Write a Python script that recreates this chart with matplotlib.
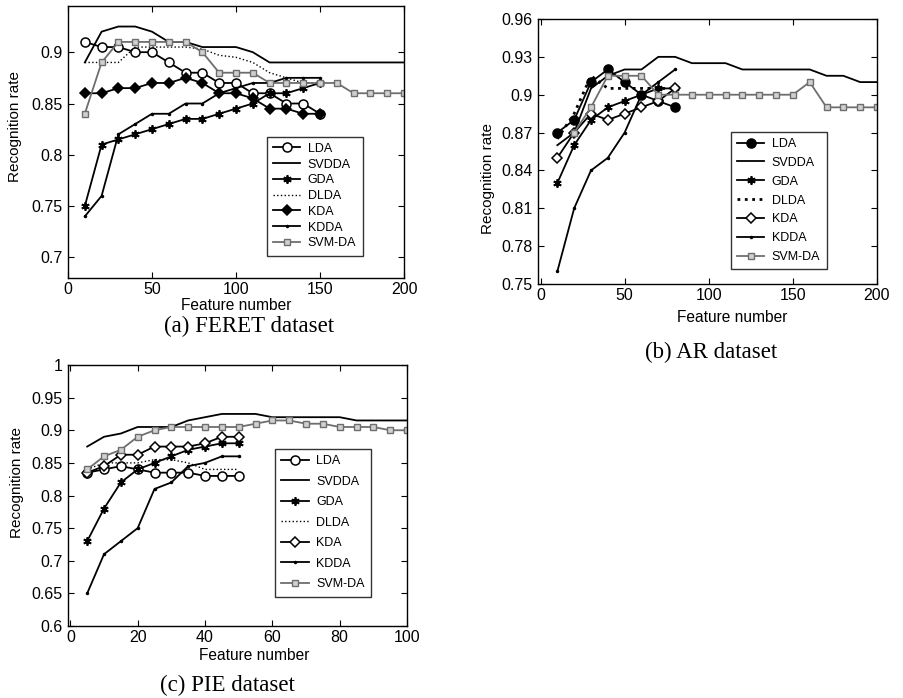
import matplotlib
matplotlib.use("Agg")
import matplotlib.pyplot as plt

plt.rcParams["font.family"] = ["Liberation Sans", "DejaVu Sans"]

METHODS = ["LDA", "SVDDA", "GDA", "DLDA", "KDA", "KDDA", "SVM-DA"]

# ---- (a) FERET ----
a_x15 = [10, 20, 30, 40, 50, 60, 70, 80, 90, 100, 110, 120, 130, 140, 150]
a_x20 = [10, 20, 30, 40, 50, 60, 70, 80, 90, 100, 110, 120, 130, 140, 150,
         160, 170, 180, 190, 200]
a_lda = [0.91, 0.905, 0.905, 0.9, 0.9, 0.89, 0.88, 0.88, 0.87, 0.87, 0.86, 0.86,
         0.85, 0.85, 0.84]
a_svdda = [0.89, 0.92, 0.925, 0.925, 0.92, 0.91, 0.91, 0.905, 0.905, 0.905, 0.9,
           0.89, 0.89, 0.89, 0.89, 0.89, 0.89, 0.89, 0.89, 0.89]
a_gda = [0.75, 0.81, 0.815, 0.82, 0.825, 0.83, 0.835, 0.835, 0.84, 0.845, 0.85,
         0.86, 0.86, 0.865, 0.87]
a_dlda = [0.89, 0.89, 0.89, 0.905, 0.905, 0.905, 0.905, 0.903, 0.897, 0.895,
          0.89, 0.88, 0.875, 0.87, 0.87]
a_kda = [0.86, 0.86, 0.865, 0.865, 0.87, 0.87, 0.875, 0.87, 0.86, 0.86, 0.855,
         0.845, 0.845, 0.84, 0.84]
a_kdda = [0.74, 0.76, 0.82, 0.83, 0.84, 0.84, 0.85, 0.85, 0.86, 0.865, 0.87,
          0.87, 0.875, 0.875, 0.875]
a_svmda = [0.84, 0.89, 0.91, 0.91, 0.91, 0.91, 0.91, 0.9, 0.88, 0.88, 0.88, 0.87,
           0.87, 0.87, 0.87, 0.87, 0.86, 0.86, 0.86, 0.86]
a_yticks = [0.7, 0.75, 0.8, 0.85, 0.9]
a_ylabels = ["0.7", "0.75", "0.8", "0.85", "0.9"]

# ---- (b) AR ----
b_x8 = [10, 20, 30, 40, 50, 60, 70, 80]
b_x20 = [10, 20, 30, 40, 50, 60, 70, 80, 90, 100, 110, 120, 130, 140, 150,
         160, 170, 180, 190, 200]
b_x19 = b_x20[1:]
b_lda = [0.87, 0.88, 0.91, 0.92, 0.91, 0.9, 0.895, 0.89]
b_svdda = [0.86, 0.87, 0.905, 0.915, 0.92, 0.92, 0.93, 0.93, 0.925, 0.925, 0.925,
           0.92, 0.92, 0.92, 0.92, 0.92, 0.915, 0.915, 0.91, 0.91]
b_gda = [0.83, 0.86, 0.88, 0.89, 0.895, 0.9, 0.905, 0.905]
b_dlda = [0.865, 0.885, 0.915, 0.905, 0.905, 0.905, 0.905, 0.905]
b_kda = [0.85, 0.87, 0.885, 0.88, 0.885, 0.89, 0.895, 0.905]
b_kdda = [0.76, 0.81, 0.84, 0.85, 0.87, 0.9, 0.91, 0.92]
b_svmda = [0.87, 0.89, 0.915, 0.915, 0.915, 0.9, 0.9, 0.9, 0.9, 0.9, 0.9, 0.9,
           0.9, 0.9, 0.91, 0.89, 0.89, 0.89, 0.89]
b_yticks = [0.75, 0.78, 0.81, 0.84, 0.87, 0.9, 0.93, 0.96]
b_ylabels = ["0.75", "0.78", "0.81", "0.84", "0.87", "0.9", "0.93", "0.96"]

# ---- (c) PIE ----
c_x10 = [5, 10, 15, 20, 25, 30, 35, 40, 45, 50]
c_x20 = [5, 10, 15, 20, 25, 30, 35, 40, 45, 50, 55, 60, 65, 70, 75, 80, 85, 90,
         95, 100]
c_lda = [0.835, 0.84, 0.845, 0.84, 0.835, 0.835, 0.835, 0.83, 0.83, 0.83]
c_svdda = [0.875, 0.89, 0.895, 0.905, 0.905, 0.905, 0.915, 0.92, 0.925, 0.925,
           0.925, 0.92, 0.92, 0.92, 0.92, 0.92, 0.915, 0.915, 0.915, 0.915]
c_gda = [0.73, 0.78, 0.82, 0.84, 0.85, 0.86, 0.87, 0.875, 0.88, 0.88]
c_dlda = [0.84, 0.85, 0.85, 0.85, 0.855, 0.855, 0.85, 0.84, 0.84, 0.84]
c_kda = [0.835, 0.845, 0.8625, 0.8625, 0.875, 0.875, 0.875, 0.88, 0.89, 0.89]
c_kdda = [0.65, 0.71, 0.73, 0.75, 0.81, 0.82, 0.845, 0.85, 0.86, 0.86]
c_svmda = [0.84, 0.86, 0.87, 0.89, 0.9, 0.905, 0.905, 0.905, 0.905, 0.905, 0.91,
           0.915, 0.915, 0.91, 0.91, 0.905, 0.905, 0.905, 0.9, 0.9]
c_yticks = [0.6, 0.65, 0.7, 0.75, 0.8, 0.85, 0.9, 0.95, 1.0]
c_ylabels = ["0.6", "0.65", "0.7", "0.75", "0.8", "0.85", "0.9", "0.95", "1"]

GRAY = "#6e6e6e"
LW = 1.3


def draw(ax, series, lda_filled, kda_filled, dlda_lw):
    (x_lda, lda), (x_sv, svdda), (x_g, gda), (x_dl, dlda), (x_k, kda), \
        (x_kd, kdda), (x_svm, svmda) = series
    ax.plot(x_lda, lda, "-", color="k", lw=LW, marker="o", ms=6.5,
            mfc="k" if lda_filled else "white", mec="k", mew=1.1, label="LDA")
    ax.plot(x_sv, svdda, "-", color="k", lw=LW, label="SVDDA")
    ax.plot(x_g, gda, "-", color="k", lw=LW, marker=(6, 2, 0), ms=6, mew=1.3,
            label="GDA")
    ax.plot(x_dl, dlda, ":", color="k", lw=dlda_lw, label="DLDA")
    ax.plot(x_k, kda, "-", color="k", lw=LW, marker="D", ms=5,
            mfc="k" if kda_filled else "white", mec="k", mew=1.1, label="KDA")
    ax.plot(x_kd, kdda, "-", color="k", lw=LW, marker=".", ms=3, label="KDDA")
    ax.plot(x_svm, svmda, "-", color=GRAY, lw=LW, marker="s", ms=4.2,
            mfc="#d0d0d0", mec=GRAY, mew=1.0, label="SVM-DA")


def style(ax, xlim, xticks, ylim, yticks, ylabels, leg_xy, spacing):
    ax.set_xlim(*xlim)
    ax.set_ylim(*ylim)
    ax.set_xticks(xticks)
    ax.set_xticklabels([str(t) for t in xticks])
    ax.set_yticks(yticks)
    ax.set_yticklabels(ylabels)
    ax.tick_params(direction="in", top=True, right=True, length=4, width=0.8,
                   labelsize=11.5, pad=4)
    ax.tick_params(axis="x", pad=3)
    for s in ax.spines.values():
        s.set_linewidth(1.0)
    leg = ax.legend(loc="upper left", bbox_to_anchor=leg_xy, borderaxespad=0,
                    fontsize=9, frameon=True, fancybox=False, handlelength=2.2,
                    handletextpad=0.6, labelspacing=spacing, borderpad=0.5)
    leg.get_frame().set_edgecolor("k")
    leg.get_frame().set_linewidth(1.0)


fig = plt.figure(figsize=(9.04, 6.98), dpi=100)
W, H = 904.0, 698.0


def add_axes(l, t, r, b):
    return fig.add_axes([l / W, 1 - b / H, (r - l) / W, (b - t) / H])


ax_a = add_axes(68, 6, 404, 278)
draw(ax_a, [(a_x15, a_lda), (a_x20, a_svdda), (a_x15, a_gda),
            (a_x15, a_dlda), (a_x15, a_kda), (a_x15, a_kdda),
            (a_x20, a_svmda)], False, True, 1.0)
style(ax_a, (0, 200), [0, 50, 100, 150, 200], (0.68, 0.945), a_yticks,
      a_ylabels, (0.591, 0.52), 0.3)

ax_b = add_axes(538, 19, 877, 284)
draw(ax_b, [(b_x8, b_lda), (b_x20, b_svdda), (b_x8, b_gda),
            (b_x8, b_dlda), (b_x8, b_kda), (b_x8, b_kdda),
            (b_x19, b_svmda)], True, False, 2.0)
style(ax_b, (-1.5, 200), [0, 50, 100, 150, 200], (0.75, 0.96), b_yticks,
      b_ylabels, (0.568, 0.575), 0.55)

ax_c = add_axes(68, 365, 407, 626)
draw(ax_c, [(c_x10, c_lda), (c_x20, c_svdda), (c_x10, c_gda),
            (c_x10, c_dlda), (c_x10, c_kda), (c_x10, c_kdda),
            (c_x20, c_svmda)], False, False, 1.0)
style(ax_c, (-0.7, 100), [0, 20, 40, 60, 80, 100], (0.6, 1.0), c_yticks,
      c_ylabels, (0.611, 0.678), 0.68)

# axis labels and captions
for x, y in [(236, 305), (732, 318), (254, 655)]:
    fig.text(x / W, 1 - y / H, "Feature number", ha="center", va="center",
             fontsize=11.2)
for x, y in [(15, 127), (488, 178), (17, 483)]:
    fig.text(x / W, 1 - y / H, "Recognition rate", ha="center", va="center",
             rotation=90, fontsize=11)
for x, y, txt in [(249, 326, "(a) FERET dataset"), (711, 352, "(b) AR dataset"),
                  (227, 685, "(c) PIE dataset")]:
    fig.text(x / W, 1 - y / H, txt, ha="center", va="center", fontsize=16.5,
             family=["Liberation Serif", "DejaVu Serif"])

fig.savefig("out.png", dpi=100)
